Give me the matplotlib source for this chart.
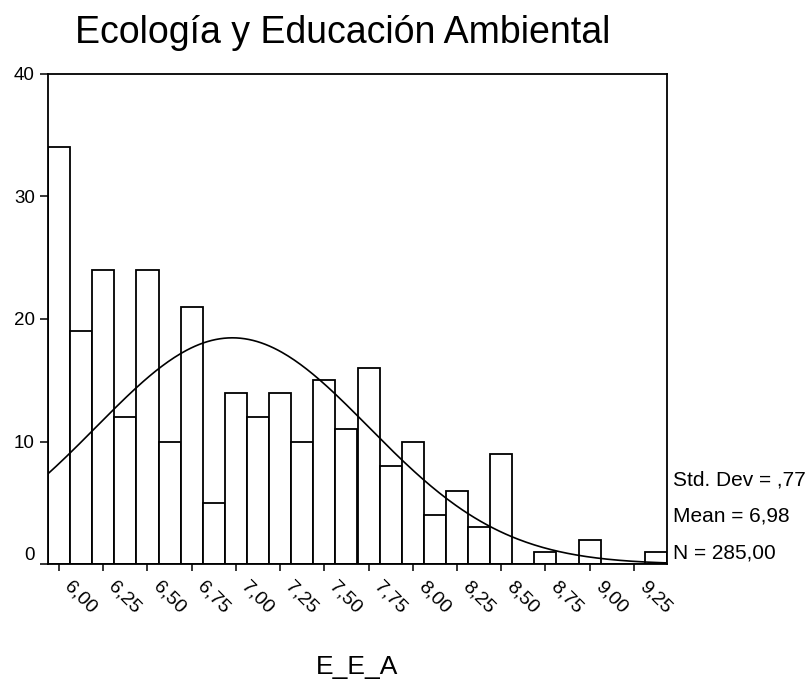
import numpy as np
import matplotlib.pyplot as plt

plt.rcParams['font.family'] = ['Liberation Sans', 'DejaVu Sans']

bin_centers = [6.000, 6.125, 6.250, 6.375, 6.500, 6.625, 6.750, 6.875,
               7.000, 7.125, 7.250, 7.375, 7.500, 7.625, 7.750, 7.875,
               8.000, 8.125, 8.250, 8.375, 8.500, 8.625, 8.750, 8.875,
               9.000, 9.125, 9.250, 9.375]
counts = [34, 19, 24, 12, 24, 10, 21, 5,
          14, 12, 14, 10, 15, 11, 16, 8,
          10, 4, 6, 3, 9, 0, 1, 0,
          2, 0, 0, 1]
bin_width = 0.125
tick_vals = [6.00, 6.25, 6.50, 6.75, 7.00, 7.25, 7.50, 7.75,
             8.00, 8.25, 8.50, 8.75, 9.00, 9.25]
tick_labels = ["6,00", "6,25", "6,50", "6,75", "7,00", "7,25", "7,50", "7,75",
               "8,00", "8,25", "8,50", "8,75", "9,00", "9,25"]
y_ticks = [0, 10, 20, 30, 40]

# estadisticos mostrados
std_dev, mean, n_total = 0.77, 6.98, 285

# ---------- Figura ----------
fig = plt.figure(figsize=(8.12, 6.81), dpi=100)
ax = fig.add_axes([48 / 812, 1 - 564.3 / 681, (667 - 48) / 812, (564.3 - 73.5) / 681])

ax.bar(bin_centers, counts, width=bin_width, color="white",
       edgecolor="black", linewidth=1.3, zorder=2)

# curva normal ajustada (N * ancho * pdf)
x0, x1 = bin_centers[0] - bin_width / 2, bin_centers[-1] + bin_width / 2
xs = np.linspace(x0, x1, 300)
ys = n_total * bin_width / (std_dev * np.sqrt(2 * np.pi)) * np.exp(-0.5 * ((xs - mean) / std_dev) ** 2)
ax.plot(xs, ys, color="black", lw=1.2, zorder=3)

ax.set_xlim(x0, x1)
ax.set_ylim(0, 40)

ax.set_yticks(y_ticks)
ax.set_yticklabels([str(v) for v in y_ticks], fontsize=13.5)
ax.set_xticks(tick_vals)
ax.set_xticklabels([])
ax.tick_params(axis="y", length=6, width=1.1, pad=3.5)
ax.tick_params(axis="x", length=5, width=1.1)
for sp in ax.spines.values():
    sp.set_linewidth(1.3)

# etiquetas del eje x giradas, como en SPSS
for v, lab in zip(tick_vals, tick_labels):
    ax.annotate(lab, xy=(v, 0), xycoords=("data", "axes fraction"),
                xytext=(3.5, -16.5), textcoords="offset points",
                rotation=-45, rotation_mode="anchor",
                ha="left", va="baseline", fontsize=14, annotation_clip=False)

# el "0" va algo por encima de su marca
ax.get_yticklabels()[0].set_va("bottom")

fig.text(343 / 812, 1 - 43 / 681, "Ecología y Educación Ambiental",
         fontsize=27, ha="center", va="baseline")
fig.text(357.5 / 812, 1 - 674 / 681, "E_E_A", fontsize=19,
         ha="center", va="baseline")

stats = [f"Std. Dev = ,{int(round(std_dev * 100))}",
         f"Mean = {mean:.2f}".replace(".", ","),
         f"N = {n_total:.2f}".replace(".", ",")]
for i, s in enumerate(stats):
    fig.text(673 / 812, 1 - (485 + 36.7 * i) / 681, s, fontsize=15,
             ha="left", va="baseline")

fig.savefig("out.png", dpi=100)
